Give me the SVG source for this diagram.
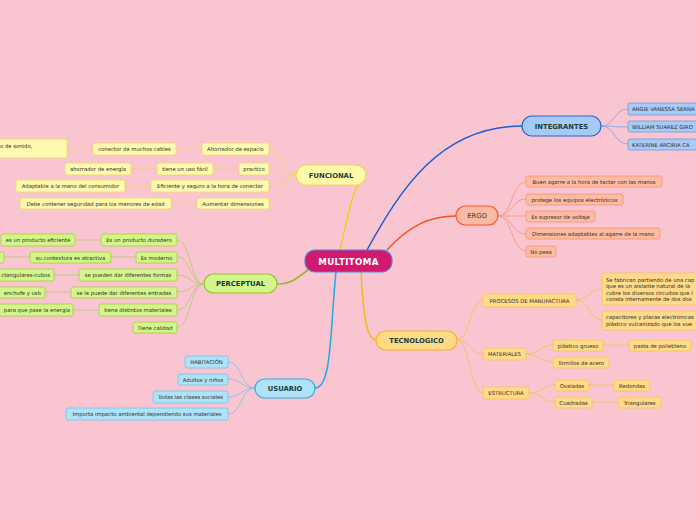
<svg xmlns="http://www.w3.org/2000/svg" width="696" height="520" viewBox="0 0 696 520">
<style>
.t{font-family:"DejaVu Sans","Liberation Sans",sans-serif;font-size:5.3px;fill:#2e2e22}
.tm{text-anchor:middle}
.te{text-anchor:end}
.h{font-family:"DejaVu Sans","Liberation Sans",sans-serif;font-weight:bold;font-size:6.8px;fill:#15403a;text-anchor:middle}
.fn{fill:#FFF8B0;stroke:#EED868;stroke-width:0.8}
.pc{fill:#D3F58B;stroke:#A7CC3A;stroke-width:0.8}
.us{fill:#AEE2F8;stroke:#74C2EA;stroke-width:0.8}
.in{fill:#A9CAF4;stroke:#6A9AE4;stroke-width:0.8}
.er{fill:#FDBBA3;stroke:#F49679;stroke-width:0.8}
.tc{fill:#FFDA8A;stroke:#F5C45A;stroke-width:0.8}
.c{fill:none;stroke-width:0.9}
.cf{stroke:#EAD574}.cp{stroke:#BCC77A}.cu{stroke:#86C2E4}.ci{stroke:#86A6E4}.ce{stroke:#F69A80}.ct{stroke:#F5C254}
.m{fill:none;stroke-width:1.5}
</style>
<rect width="696" height="520" fill="#F9C5D1"/>
<g id="connectors">
<path class="m" stroke="#F0D020" d="M340,250 C348,215 352,195 358,185"/>
<path class="m" stroke="#1E5FD0" d="M367,250 C400,190 440,126 522,126"/>
<path class="m" stroke="#F05424" d="M387,250 C410,225 430,216 456,216"/>
<path class="m" stroke="#F5B820" d="M361,272 C363,310 366,340 376,340"/>
<path class="m" stroke="#8CB820" d="M308,270 C295,280 290,284 277,284"/>
<path class="m" stroke="#1EA8E8" d="M336,272 C330,330 332,388 315,388"/>
<g class="c cf">
<path d="M296,175 C282,175 283,149 269,149"/>
<path d="M296,175 C282,175 283,169 269,169"/>
<path d="M296,175 C282,175 283,186 269,186"/>
<path d="M296,175 C282,175 283,203 269,203"/>
<path d="M202,149 H176 M93,149 H67 M239,169 H213 M157,169 H131 M151,186 H125 M197,203 H171"/>
</g>
<g class="c cp">
<path d="M204,284 C190,284 191,240 177,240"/>
<path d="M204,284 C190,284 191,257 177,257"/>
<path d="M204,284 C190,284 191,275 177,275"/>
<path d="M204,284 C190,284 191,292 177,292"/>
<path d="M204,284 C190,284 191,310 177,310"/>
<path d="M204,284 C190,284 191,327 177,327"/>
<path d="M101,240 H75 M136,257 H111 M30,257 H4 M79,275 H54 M71,292 H45 M99,310 H73"/>
</g>
<g class="c cu">
<path d="M255,388 C241,388 242,362 228,362"/>
<path d="M255,388 C241,388 242,379 228,379"/>
<path d="M255,388 C241,388 242,397 228,397"/>
<path d="M255,388 C241,388 242,414 228,414"/>
</g>
<g class="c ci">
<path d="M601,126 C615,126 614,109 628,109"/>
<path d="M601,126 C615,126 614,127 628,127"/>
<path d="M601,126 C615,126 614,144 628,144"/>
</g>
<g class="c ce">
<path d="M498,216 C512,216 512,182 526,182"/>
<path d="M498,216 C512,216 512,199 526,199"/>
<path d="M498,216 C512,216 512,216 526,216"/>
<path d="M498,216 C512,216 512,234 526,234"/>
<path d="M498,216 C512,216 512,251 526,251"/>
</g>
<g class="c ct">
<path d="M457,340 C470,340 470,300 483,300"/>
<path d="M457,340 C470,340 470,354 483,354"/>
<path d="M457,340 C470,340 470,393 483,393"/>
<path d="M576,300 C589,300 589,289 602,289"/>
<path d="M576,300 C589,300 589,320 602,320"/>
<path d="M526,354 C540,354 539,345 553,345"/>
<path d="M526,354 C540,354 539,362 553,362"/>
<path d="M529,393 C542,393 542,385 555,385"/>
<path d="M529,393 C542,393 542,402 555,402"/>
<path d="M603,345 H629 M589,385 H614 M592,402 H618"/>
</g>
</g>
<g id="multitoma"><rect x="305" y="250" width="87" height="22" rx="10" fill="#D0196F" stroke="#4A8AD0" stroke-width="1.2"/><text x="348.5" y="264.5" class="h" style="fill:#fff;font-size:8.6px;letter-spacing:0.4px">MULTITOMA</text></g>
<g id="funcional"><rect x="296" y="165" width="70" height="20" rx="10" fill="#FFF9AC" stroke="#F0D848" stroke-width="1.2"/><text x="331" y="177.5" class="h">FUNCIONAL</text></g>
<g id="f1"><rect class="fn" x="202" y="143" width="67" height="12" rx="2"/><text class="t tm" x="235.5" y="151">Ahorrador de espacio</text></g>
<g id="f1a"><rect class="fn" x="93" y="143" width="83" height="12" rx="2"/><text class="t tm" x="134.5" y="151">conector de muchos cables</text></g>
<g id="f1b"><rect class="fn" x="-5" y="139" width="72" height="19" rx="2"/><text class="t" x="0" y="147.5">o de sonido,</text></g>
<g id="f2"><rect class="fn" x="239" y="163" width="30" height="12" rx="2"/><text class="t tm" x="254" y="171">practico</text></g>
<g id="f2a"><rect class="fn" x="157" y="163" width="56" height="12" rx="2"/><text class="t tm" x="185" y="171">tiene un uso fácil</text></g>
<g id="f2b"><rect class="fn" x="65" y="163" width="66" height="12" rx="2"/><text class="t tm" x="98" y="171">ahorrador de energía</text></g>
<g id="f3"><rect class="fn" x="151" y="180" width="118" height="12" rx="2"/><text class="t tm" x="210" y="188">Eficiente y seguro a la hora de conectar</text></g>
<g id="f3a"><rect class="fn" x="16" y="180" width="109" height="12" rx="2"/><text class="t tm" x="70.5" y="188">Adaptable a la mano del consumidor</text></g>
<g id="f4"><rect class="fn" x="197" y="198" width="72" height="11" rx="2"/><text class="t tm" x="233" y="205.5">Aumentar dimensiones</text></g>
<g id="f4a"><rect class="fn" x="20" y="198" width="151" height="11" rx="2"/><text class="t tm" x="95.5" y="205.5">Debe contener seguridad para los menores de edad</text></g>
<g id="perceptual"><rect x="204" y="274" width="73" height="19" rx="9.5" fill="#D3F58B" stroke="#96C230" stroke-width="1.2"/><text x="240.5" y="286" class="h">PERCEPTUAL</text></g>
<g id="p1"><rect class="pc" x="101" y="234" width="76" height="12" rx="2"/><text class="t tm" x="139" y="242">Es un producto duradero</text></g>
<g id="p1a"><rect class="pc" x="1" y="234" width="74" height="12" rx="2"/><text class="t tm" x="38" y="242">es un producto eficiente</text></g>
<g id="p2"><rect class="pc" x="136" y="252" width="41" height="11" rx="2"/><text class="t tm" x="156.5" y="259.5">Es moderno</text></g>
<g id="p2a"><rect class="pc" x="30" y="252" width="81" height="11" rx="2"/><text class="t tm" x="70.5" y="259.5">su contextura es atractiva</text></g>
<g id="p2b"><rect class="pc" x="-5" y="252" width="9" height="11" rx="2"/></g>
<g id="p3"><rect class="pc" x="79" y="269" width="98" height="12" rx="2"/><text class="t tm" x="128" y="277">se pueden dar diferentes formas</text></g>
<g id="p3a"><rect class="pc" x="-5" y="269" width="59" height="12" rx="2"/><text class="t te" x="50" y="277">ctangulares-cubos</text></g>
<g id="p4"><rect class="pc" x="71" y="287" width="106" height="11" rx="2"/><text class="t tm" x="124" y="294.5">se le puede dar diferentes entradas</text></g>
<g id="p4a"><rect class="pc" x="-5" y="287" width="50" height="11" rx="2"/><text class="t te" x="41" y="294.5">enchufe y usb</text></g>
<g id="p5"><rect class="pc" x="99" y="304" width="78" height="12" rx="2"/><text class="t tm" x="138" y="312">tiene distintos materiales</text></g>
<g id="p5a"><rect class="pc" x="-5" y="304" width="78" height="12" rx="2"/><text class="t te" x="70" y="312">para que pase la energía</text></g>
<g id="p6"><rect class="pc" x="133" y="322" width="44" height="11" rx="2"/><text class="t tm" x="155" y="329.5">Tiene calidad</text></g>
<g id="usuario"><rect x="255" y="379" width="60" height="19" rx="9.5" fill="#AEE2F8" stroke="#30AEE6" stroke-width="1.2"/><text x="285" y="391" class="h">USUARIO</text></g>
<g id="u1"><rect class="us" x="185" y="356" width="43" height="12" rx="2"/><text class="t tm" x="206.5" y="364">HABITACIÓN</text></g>
<g id="u2"><rect class="us" x="178" y="374" width="50" height="11" rx="2"/><text class="t tm" x="203" y="381.5">Adultos y niños</text></g>
<g id="u3"><rect class="us" x="153" y="391" width="75" height="12" rx="2"/><text class="t tm" x="190.5" y="399">Todas las clases sociales</text></g>
<g id="u4"><rect class="us" x="66" y="408" width="162" height="12" rx="2"/><text class="t tm" x="147" y="416">Importa impacto ambiental dependiendo sus materiales</text></g>
<g id="integrantes"><rect x="522" y="116" width="79" height="20" rx="10" fill="#A6CAF5" stroke="#2266D0" stroke-width="1.2"/><text x="561.5" y="128.5" class="h">INTEGRANTES</text></g>
<g id="i1"><rect class="in" x="628" y="103" width="75" height="12" rx="2"/><text class="t" x="632" y="111">ANGIE VANESSA SERNA</text></g>
<g id="i2"><rect class="in" x="628" y="121" width="75" height="11" rx="2"/><text class="t" x="632" y="128.5">WILLIAM SUAREZ GIRO</text></g>
<g id="i3"><rect class="in" x="628" y="139" width="75" height="11" rx="2"/><text class="t" x="632" y="146.5">KATERINE ARCIRIA CA</text></g>
<g id="ergo"><rect x="456" y="206" width="42" height="19" rx="9.5" fill="#FDB9A1" stroke="#F05A30" stroke-width="1.2"/><text x="477" y="218" class="h" style="font-weight:normal">ERGO</text></g>
<g id="e1"><rect class="er" x="526" y="176" width="136" height="11" rx="2"/><text class="t tm" x="594" y="183.5">Buen agarre a la hora de tactar con las manos</text></g>
<g id="e2"><rect class="er" x="526" y="194" width="97" height="11" rx="2"/><text class="t tm" x="574.5" y="201.5">protege los equipos electrónicos</text></g>
<g id="e3"><rect class="er" x="526" y="211" width="69" height="11" rx="2"/><text class="t tm" x="560.5" y="218.5">Es supresor de voltaje</text></g>
<g id="e4"><rect class="er" x="526" y="228" width="134" height="11" rx="2"/><text class="t tm" x="593" y="235.5">Dimensiones adaptables al agarre de la mano</text></g>
<g id="e5"><rect class="er" x="526" y="246" width="30" height="11" rx="2"/><text class="t tm" x="541" y="253.5">No pesa</text></g>
<g id="tecnologico"><rect x="376" y="331" width="81" height="19" rx="9.5" fill="#FFDA85" stroke="#F5B52A" stroke-width="1.2"/><text x="416.5" y="343" class="h">TECNOLOGICO</text></g>
<g id="t1"><rect class="tc" x="483" y="294" width="93" height="13" rx="2"/><text class="t tm" x="529.5" y="302.5">PROCESOS DE MANUFACTURA</text></g>
<g id="t1a"><rect class="tc" x="602" y="273" width="100" height="32" rx="2"/><text class="t" x="606" y="281.5">Se fabrican partiendo de una cap</text><text class="t" x="606" y="288">que es un aislante natural de la</text><text class="t" x="606" y="294.5">cubre los diversos circuitos que l</text><text class="t" x="606" y="301">consta internamente de dos dos</text></g>
<g id="t1b"><rect class="tc" x="602" y="311" width="100" height="19" rx="2"/><text class="t" x="606" y="319">capacitores y placas electronicas</text><text class="t" x="606" y="325.5">plástico vulcanizado que los vue</text></g>
<g id="t2"><rect class="tc" x="483" y="348" width="43" height="12" rx="2"/><text class="t tm" x="504.5" y="356">MATERIALES</text></g>
<g id="t2a"><rect class="tc" x="553" y="340" width="50" height="11" rx="2"/><text class="t tm" x="578" y="347.5">plástico grueso</text></g>
<g id="t2a1"><rect class="tc" x="629" y="340" width="62" height="11" rx="2"/><text class="t tm" x="660" y="347.5">pasta de polietileno</text></g>
<g id="t2b"><rect class="tc" x="553" y="357" width="56" height="11" rx="2"/><text class="t tm" x="581" y="364.5">Tornillos de acero</text></g>
<g id="t3"><rect class="tc" x="483" y="387" width="46" height="12" rx="2"/><text class="t tm" x="506" y="395">ESTRUCTURA</text></g>
<g id="t3a"><rect class="tc" x="555" y="380" width="34" height="11" rx="2"/><text class="t tm" x="572" y="387.5">Ovaladas</text></g>
<g id="t3a1"><rect class="tc" x="614" y="380" width="36" height="11" rx="2"/><text class="t tm" x="632" y="387.5">Redondas</text></g>
<g id="t3b"><rect class="tc" x="555" y="397" width="37" height="11" rx="2"/><text class="t tm" x="573.5" y="404.5">Cuadradas</text></g>
<g id="t3b1"><rect class="tc" x="618" y="397" width="43" height="11" rx="2"/><text class="t tm" x="639.5" y="404.5">Triangulares</text></g>
</svg>
